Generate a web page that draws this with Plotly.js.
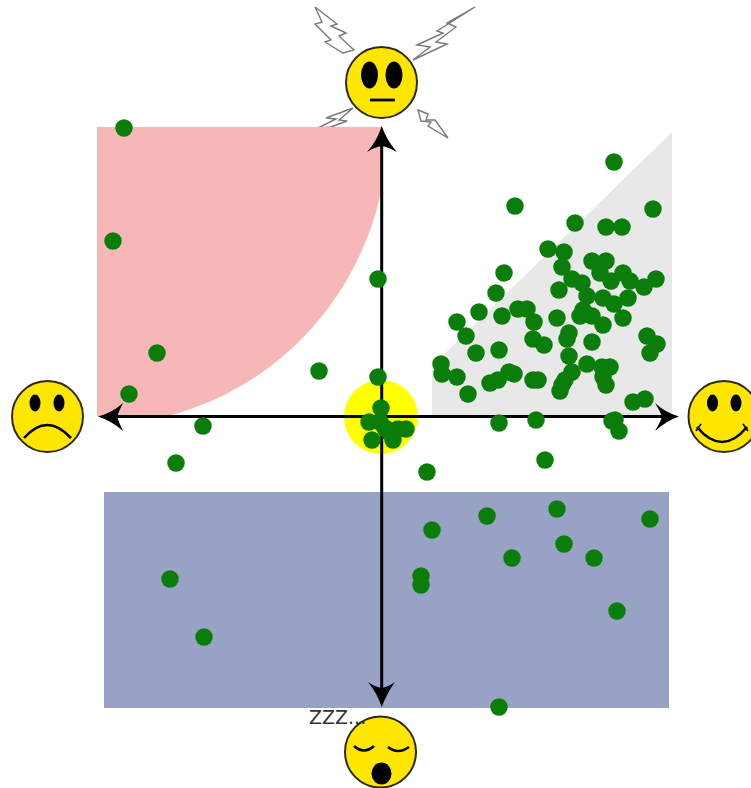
<!DOCTYPE html>
<html>
<head>
<meta charset="utf-8">
<script src="https://cdn.plot.ly/plotly-3.0.1.min.js"></script>
<style>html,body{margin:0;padding:0;background:#fff}#chart{width:751px;height:788px}</style>
</head>
<body>
<div id="chart"></div>
<script>
// Point values
const clusterX = [504,496,479,457,466,476,499,502,518,527,534,533,544,441,442,457,468,490,498,509,514,533,538,
  548,564,562,572,582,559,587,592,606,600,611,623,630,644,656,603,614,628,623,583,580,592,603,557,569,567,592,
  569,647,657,650,572,565,560,562,587,602,610,603,606,633,645];
const clusterY = [273,293,312,322,336,353,350,316,309,309,322,339,345,364,374,377,394,383,380,372,374,380,380,
  249,252,267,279,283,290,296,261,261,273,281,273,281,287,279,298,304,298,318,310,316,316,325,318,333,339,342,
  356,336,344,353,372,380,391,385,364,367,367,377,385,402,399];
const upperRightX = [614,515,653,575,606,622];
const upperRightY = [162,206,209,223,227,227];
const upperLeftX = [124,113,157,129,319,378,378];
const upperLeftY = [128,241,353,394,371,279,377];
const centreX = [381,369,380,385,372,393,398,406,389];
const centreY = [408,422,422,428,440,440,429,429,432];
const lowerX = [203,176,499,536,612,619,615,545,427,487,557,650,432,564,512,594,421,421,617,170,204,499];
const lowerY = [426,463,423,420,421,431,420,460,472,516,509,519,530,544,558,558,576,585,611,579,637,707];

const allX = [...clusterX, ...upperRightX, ...upperLeftX, ...centreX, ...lowerX];
const allY = [...clusterY, ...upperRightY, ...upperLeftY, ...centreY, ...lowerY];

const faceYellow = '#ffe600', faceEdge = '#2e2a18', ink = '#000000', boltGrey = '#7a7a7a';
const p = (d, o = {}) => Object.assign({type:'path', xref:'x', yref:'y', layer:'below', path:d,
  line:{color:ink, width:0}, fillcolor:'rgba(0,0,0,0)'}, o);
const oval = (cx, cy, rx, ry, fill, line) => ({type:'circle', xref:'x', yref:'y', layer:'below',
  x0:cx-rx, x1:cx+rx, y0:cy-ry, y1:cy+ry, fillcolor:fill, line:line || {width:0, color:fill}});
const stroke = (d, w) => p(d, {line:{color:ink, width:w}});
const solid = (d) => p(d, {fillcolor:ink});
const bolt = (d) => p(d, {line:{color:boltGrey, width:1.4}, fillcolor:'#ffffff'});
const face = (cx, cy) => oval(cx, cy, 35.5, 35.5, faceYellow, {color:faceEdge, width:2});

const shapes = [
  // lightning
  bolt('M315,7 L337,24 L331,26 L346,33 L339,36 L354,50 L343,53 L325,42 L331,40 L315,24 L322,22 Z'),
  bolt('M475,7 L447,23 L456,27 L436,42 L447,44 L413,60 L430,47 L417,45 L443,33 L437,31 Z'),
  bolt('M353,108 L326,118 L336,119 L318,128 L331,127 L347,121 L339,120 Z'),
  bolt('M418,110 L428,114 L426,120 L435,120 L448,138 L428,126 L431,122 L421,121 Z'),
  // regions
  p('M97,127 L381,127 L381,192 C369.3,245.9 343,295.5 305.4,335 C267.8,374.5 220.2,402.5 167.9,416 L97,416 Z', {fillcolor:'#f8b7b7'}),
  p('M432,416 L432,366 L672,132 L672,416 Z', {fillcolor:'#e8e8e8'}),
  p('M104,492 L669,492 L669,708 L104,708 Z', {fillcolor:'#98a2c4'}),
  oval(381, 417, 37, 37, '#ffff00'),
  // axes
  stroke('M112,416.5 L665,416.5', 3),
  stroke('M381.7,140 L381.7,695', 3),
  solid('M381.7,126 Q377,141 367,152 Q375,147 381.7,146 Q388,147 397,152 Q387,141 381.7,126 Z'),
  solid('M381.7,707 Q377,693 368,682 Q375,687 381.7,688 Q388,687 395,682 Q387,693 381.7,707 Z'),
  solid('M98,416.5 Q112,413 123,403 Q119,411 117,416.5 Q119,423 123,431 Q112,421 98,416.5 Z'),
  solid('M679,416.5 Q666,413 655,403 Q660,411 662,416.5 Q660,423 655,431 Q666,421 679,416.5 Z'),
  // top face
  face(381.5, 82.5),
  oval(369.5, 75, 8.5, 13.5, ink), oval(394, 75, 8.5, 13.5, ink),
  stroke('M370,100 L395,100', 2.8),
  // left face
  face(47.5, 416.5),
  oval(35, 403, 5.5, 8.5, ink), oval(59, 403, 5.5, 8.5, ink),
  stroke('M24,438 Q47,412 71,438', 2.6),
  // right face
  face(724, 416.5),
  oval(712.5, 403, 5.5, 8.5, ink), oval(736, 403, 5.5, 8.5, ink),
  stroke('M697,427 Q722,457 747,427', 2.6),
  stroke('M696,431 L701,424', 1.6),
  stroke('M743,424 L748,431', 1.6),
  // bottom face
  face(380.5, 752),
  stroke('M354,746 Q364,755 374,746', 2.6),
  stroke('M388,747 Q398,755 409,747', 2.6),
  oval(381.5, 773.5, 10, 11, ink)
];

const trace = {type:'scatter', mode:'markers', x:allX, y:allY, hoverinfo:'skip',
  marker:{color:'#0a7d0a', size:17.5, line:{width:0}}};

const layout = {
  width:751, height:788, margin:{l:0,r:0,t:0,b:0,pad:0},
  paper_bgcolor:'#ffffff', plot_bgcolor:'#ffffff', showlegend:false,
  xaxis:{range:[0,751], visible:false, fixedrange:true},
  yaxis:{range:[788,0], visible:false, fixedrange:true},
  shapes:shapes,
  annotations:[{text:'ZZZ...', x:307, y:717, xref:'x', yref:'y', xanchor:'left', yanchor:'middle',
    showarrow:false, font:{family:'DejaVu Sans', size:19, color:'#333333'}}]
};
Plotly.newPlot('chart', [trace], layout, {displayModeBar:false, staticPlot:true});
</script>
</body>
</html>
